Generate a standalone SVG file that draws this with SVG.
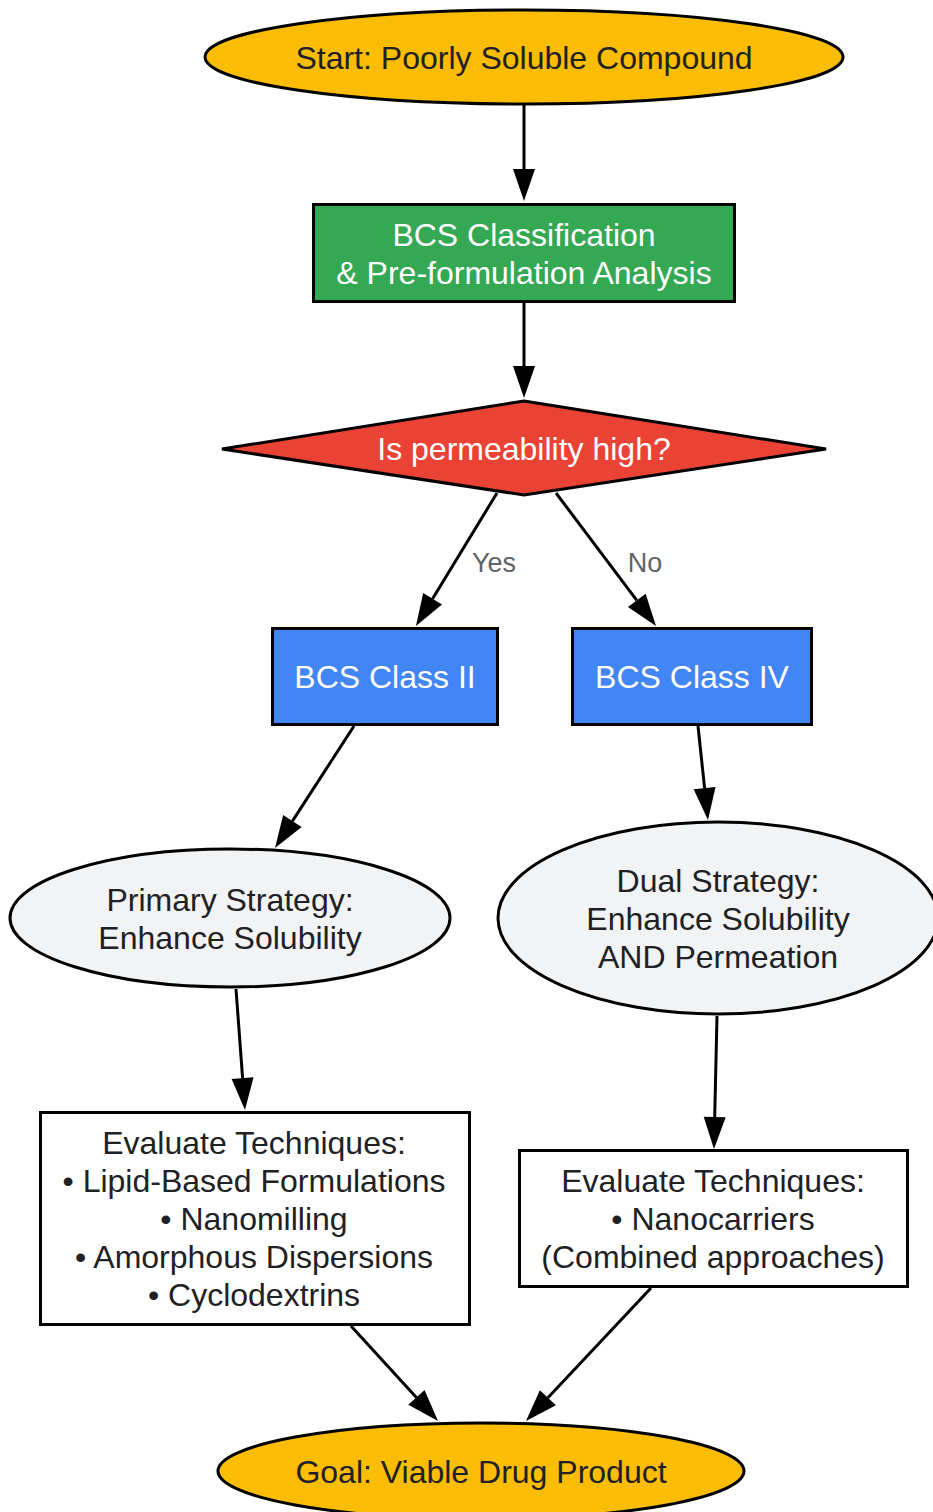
<svg xmlns="http://www.w3.org/2000/svg" width="933" height="1512" viewBox="0 0 933 1512">
<style>
.n{stroke:#000;stroke-width:3}
.t{font-family:"Liberation Sans",Arial,sans-serif;font-size:32px;text-anchor:middle}
.dk{fill:#202124}
.wt{fill:#fff}
.e{stroke:#000;stroke-width:3;fill:none;marker-end:url(#ah)}
.lb{font-family:"Liberation Sans",Arial,sans-serif;font-size:27px;fill:#5f6368;text-anchor:middle}
</style>
<defs>
<marker id="ah" markerUnits="userSpaceOnUse" viewBox="0 0 32 22" markerWidth="32" markerHeight="22" refX="0" refY="11" orient="auto" overflow="visible">
<path d="M0,0 L32,11 L0,22 z" fill="#000"/>
</marker>
</defs>
<rect width="933" height="1512" fill="#fff"/>
<g id="connectors">
<path class="e" d="M524,104 L524,169"/>
<path class="e" d="M524,301 L524,366"/>
<path class="e" d="M497,493 L432.6,598.7"/>
<path class="e" d="M556,493 L636.8,600.4"/>
<path class="e" d="M354,726 L292.4,821.1"/>
<path class="e" d="M698,726 L704.6,788.2"/>
<path class="e" d="M236,989 L242.6,1078.1"/>
<path class="e" d="M717,1016 L714.7,1117"/>
<path class="e" d="M351,1326 L416.4,1397.4"/>
<path class="e" d="M651,1288 L547.9,1397.7"/>
<text class="lb" x="494" y="572">Yes</text>
<text class="lb" x="645" y="572">No</text>
</g>
<g id="start">
<ellipse class="n" cx="524" cy="57" rx="319" ry="47" fill="#FBBC04"/>
<text class="t dk" x="524" y="69">Start: Poorly Soluble Compound</text>
</g>
<g id="bcs">
<rect class="n" x="313.5" y="204.5" width="421" height="97" fill="#34A853"/>
<text class="t wt" x="524" y="246">BCS Classification</text>
<text class="t wt" x="524" y="284">&amp; Pre-formulation Analysis</text>
</g>
<g id="decision">
<polygon class="n" points="524,401 826,449 524,495 222,449" fill="#EA4335"/>
<text class="t wt" x="524" y="460">Is permeability high?</text>
</g>
<g id="class2">
<rect class="n" x="272.5" y="628.5" width="225" height="96" fill="#4285F4"/>
<text class="t wt" x="385" y="688">BCS Class II</text>
</g>
<g id="class4">
<rect class="n" x="572.5" y="628.5" width="239" height="96" fill="#4285F4"/>
<text class="t wt" x="692" y="688">BCS Class IV</text>
</g>
<g id="primary">
<ellipse class="n" cx="230" cy="918" rx="220" ry="69" fill="#F1F3F4"/>
<text class="t dk" x="230" y="911">Primary Strategy:</text>
<text class="t dk" x="230" y="949">Enhance Solubility</text>
</g>
<g id="dual">
<ellipse class="n" cx="718" cy="918" rx="220" ry="96" fill="#F1F3F4"/>
<text class="t dk" x="718" y="892">Dual Strategy:</text>
<text class="t dk" x="718" y="930">Enhance Solubility</text>
<text class="t dk" x="718" y="968">AND Permeation</text>
</g>
<g id="eval2">
<rect class="n" x="40.5" y="1112.5" width="429" height="212" fill="#fff"/>
<text class="t dk" x="254" y="1154">Evaluate Techniques:</text>
<text class="t dk" x="254" y="1192">• Lipid-Based Formulations</text>
<text class="t dk" x="254" y="1230">• Nanomilling</text>
<text class="t dk" x="254" y="1268">• Amorphous Dispersions</text>
<text class="t dk" x="254" y="1306">• Cyclodextrins</text>
</g>
<g id="eval4">
<rect class="n" x="519.5" y="1150.5" width="388" height="136" fill="#fff"/>
<text class="t dk" x="713" y="1192">Evaluate Techniques:</text>
<text class="t dk" x="713" y="1230">• Nanocarriers</text>
<text class="t dk" x="713" y="1268">(Combined approaches)</text>
</g>
<g id="goal">
<ellipse class="n" cx="481" cy="1471" rx="263" ry="48" fill="#FBBC04"/>
<text class="t dk" x="481" y="1483">Goal: Viable Drug Product</text>
</g>
</svg>
